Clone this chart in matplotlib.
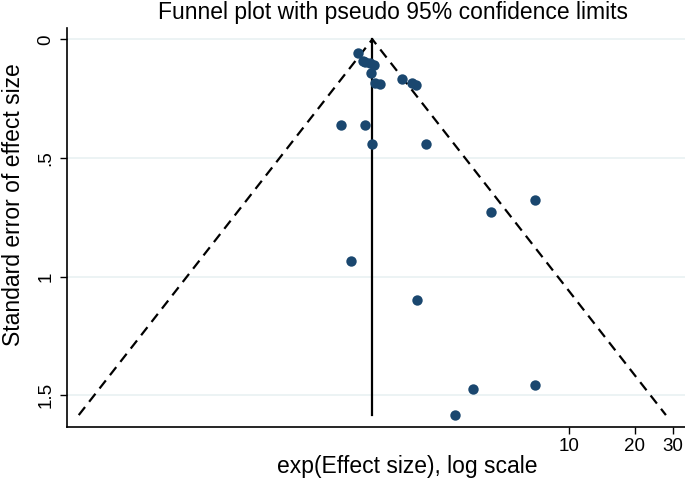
import numpy as np
import matplotlib
matplotlib.use("Agg")
import matplotlib.pyplot as plt
from matplotlib.ticker import FixedLocator, NullLocator, FixedFormatter

plt.rcParams['font.family'] = ['Liberation Sans', 'DejaVu Sans']

# Study effect sizes (exp scale) and standard errors
effect = [1.075, 1.133, 1.153, 1.216, 1.272, 1.229, 1.282, 1.352, 1.70, 1.89, 1.98,
          0.895, 1.153, 1.239, 2.20, 6.96, 4.36, 0.995, 1.99, 3.62, 6.96, 2.99]
se = [0.059, 0.090, 0.094, 0.101, 0.108, 0.141, 0.185, 0.190, 0.169, 0.183, 0.193,
      0.361, 0.361, 0.441, 0.441, 0.677, 0.728, 0.935, 1.100, 1.476, 1.459, 1.584]
pooled = 1.246
xticks = [10, 20, 30]
yticks = [0, 0.5, 1, 1.5]
ytick_labels = ["0", ".5", "1", "1.5"]

fig = plt.figure(figsize=(6.85, 4.82), dpi=100)
ax = fig.add_axes([0.0974, 0.1147, 0.9026, 0.8266])

for yv in yticks:
    ax.axhline(yv, color='#eaf2f3', lw=1.3, zorder=0)

semax = max(se)
lp = np.log(pooled)
ax.plot([np.exp(lp - 1.96 * semax), pooled, np.exp(lp + 1.96 * semax)],
        [semax, 0, semax], color='black', ls=(0, (4.6, 3.0)), lw=1.6, zorder=2)
ax.plot([pooled, pooled], [0, semax], color='black', lw=1.6, zorder=2)
ax.scatter(effect, se, s=56, color='#1a476f', zorder=3, linewidths=0)

ax.set_xscale('log')
ax.set_xlim(0.0492, 34.0)
ax.set_ylim(1.633, -0.0464)
ax.xaxis.set_major_locator(FixedLocator(xticks))
ax.xaxis.set_major_formatter(FixedFormatter([str(t) for t in xticks]))
ax.xaxis.set_minor_locator(NullLocator())
ax.yaxis.set_major_locator(FixedLocator(yticks))
ax.yaxis.set_major_formatter(FixedFormatter(ytick_labels))
for lab in ax.get_yticklabels():
    lab.set_rotation(90)
    lab.set_va('center')
ax.tick_params(axis='both', labelsize=13.5, length=5, width=1, color='black', pad=3)
ax.tick_params(axis='y', pad=4)

for s in ['top', 'right']:
    ax.spines[s].set_visible(False)
for s in ['left', 'bottom']:
    ax.spines[s].set_linewidth(1.2)

fig.text(393 / 685, 1 - 13 / 482, "Funnel plot with pseudo 95% confidence limits",
         ha='center', va='center', fontsize=16.5)
fig.text(407 / 685, 1 - 466 / 482, "exp(Effect size), log scale",
         ha='center', va='center', fontsize=16.5)
fig.text(14 / 685, 1 - 205 / 482, "Standard error of effect size",
         ha='center', va='center', rotation=90, fontsize=16.5)

fig.savefig("out.png", dpi=100)
